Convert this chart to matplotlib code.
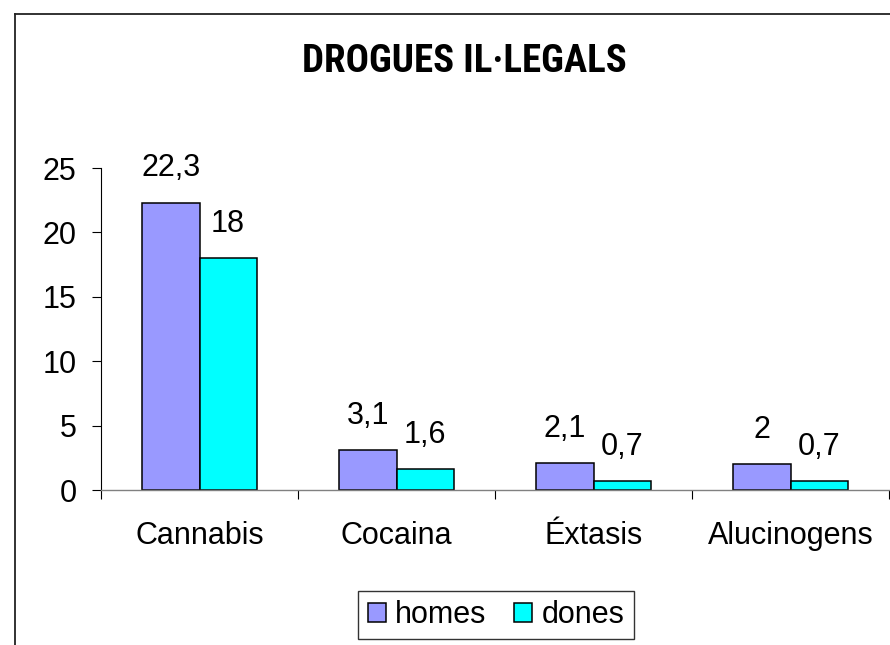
import matplotlib
matplotlib.use("Agg")
import matplotlib.pyplot as plt
import numpy as np
from matplotlib.lines import Line2D

categories = ["Cannabis", "Cocaina", "Éxtasis", "Alucinogens"]
homes = [22.3, 3.1, 2.1, 2.0]
dones = [18.0, 1.6, 0.7, 0.7]
homes_labels = ["22,3", "3,1", "2,1", "2"]
dones_labels = ["18", "1,6", "0,7", "0,7"]
yticks = [0, 5, 10, 15, 20, 25]

plt.rcParams['font.family'] = ['Liberation Sans', 'DejaVu Sans']

fig = plt.figure(figsize=(8.9, 6.45), dpi=100)
ax = fig.add_axes([101 / 890, 155 / 645, 788 / 890, 322 / 645])

x = np.arange(len(categories))
w = 0.29
b1 = ax.bar(x - w / 2, homes, w, color="#9999ff", edgecolor="black", linewidth=1.1, label="homes")
b2 = ax.bar(x + w / 2, dones, w, color="#00ffff", edgecolor="black", linewidth=1.1, label="dones")

# value labels above bars
for bars, labels in ((b1, homes_labels), (b2, dones_labels)):
    for rect, lab in zip(bars, labels):
        ax.annotate(lab, (rect.get_x() + rect.get_width() / 2, rect.get_height()),
                    xytext=(0, 14), textcoords="offset points",
                    ha="center", va="bottom", fontsize=22)

ax.set_xlim(-0.5, len(categories) - 0.5)
ax.set_ylim(0, 25)
ax.set_yticks(yticks)
ax.set_yticklabels([str(v) for v in yticks])
ax.set_xticks(x)
ax.set_xticklabels(categories)
ax.set_xticks(np.arange(-0.5, len(categories)), minor=True)

ax.tick_params(axis="y", direction="out", length=6.5, width=0.8, pad=11, labelsize=22)
ax.tick_params(axis="x", which="major", length=0, pad=22, labelsize=22)
ax.tick_params(axis="x", which="minor", direction="out", length=6.5, width=0.8)

ax.spines["top"].set_visible(False)
ax.spines["right"].set_visible(False)
ax.spines["left"].set_linewidth(0.8)
ax.spines["bottom"].set_color("#808080")
ax.spines["bottom"].set_linewidth(1.0)

fig.text(464 / 890, 1 - 62 / 645, "DROGUES IL·LEGALS", ha="center", va="center",
         fontsize=28, fontweight="bold",
         family=['Roboto Condensed', 'Liberation Sans', 'DejaVu Sans'])

leg = fig.legend(loc="center", bbox_to_anchor=(496 / 890, 1 - 615 / 645), ncol=2,
                 fontsize=22, frameon=True, fancybox=False, handlelength=0.6,
                 handleheight=0.6, handletextpad=0.3, columnspacing=0.9,
                 borderpad=0.3, borderaxespad=0)
leg.get_frame().set_edgecolor("black")
leg.get_frame().set_linewidth(1.0)

# outer chart border (clipped on the right and bottom)
fig.add_artist(Line2D([15.5 / 890, 15.5 / 890], [0, 1 - 13.5 / 645], color="#222222", linewidth=1.3))
fig.add_artist(Line2D([15.5 / 890, 1], [1 - 13.5 / 645, 1 - 13.5 / 645], color="#222222", linewidth=1.3))

fig.savefig("out.png", dpi=100)
